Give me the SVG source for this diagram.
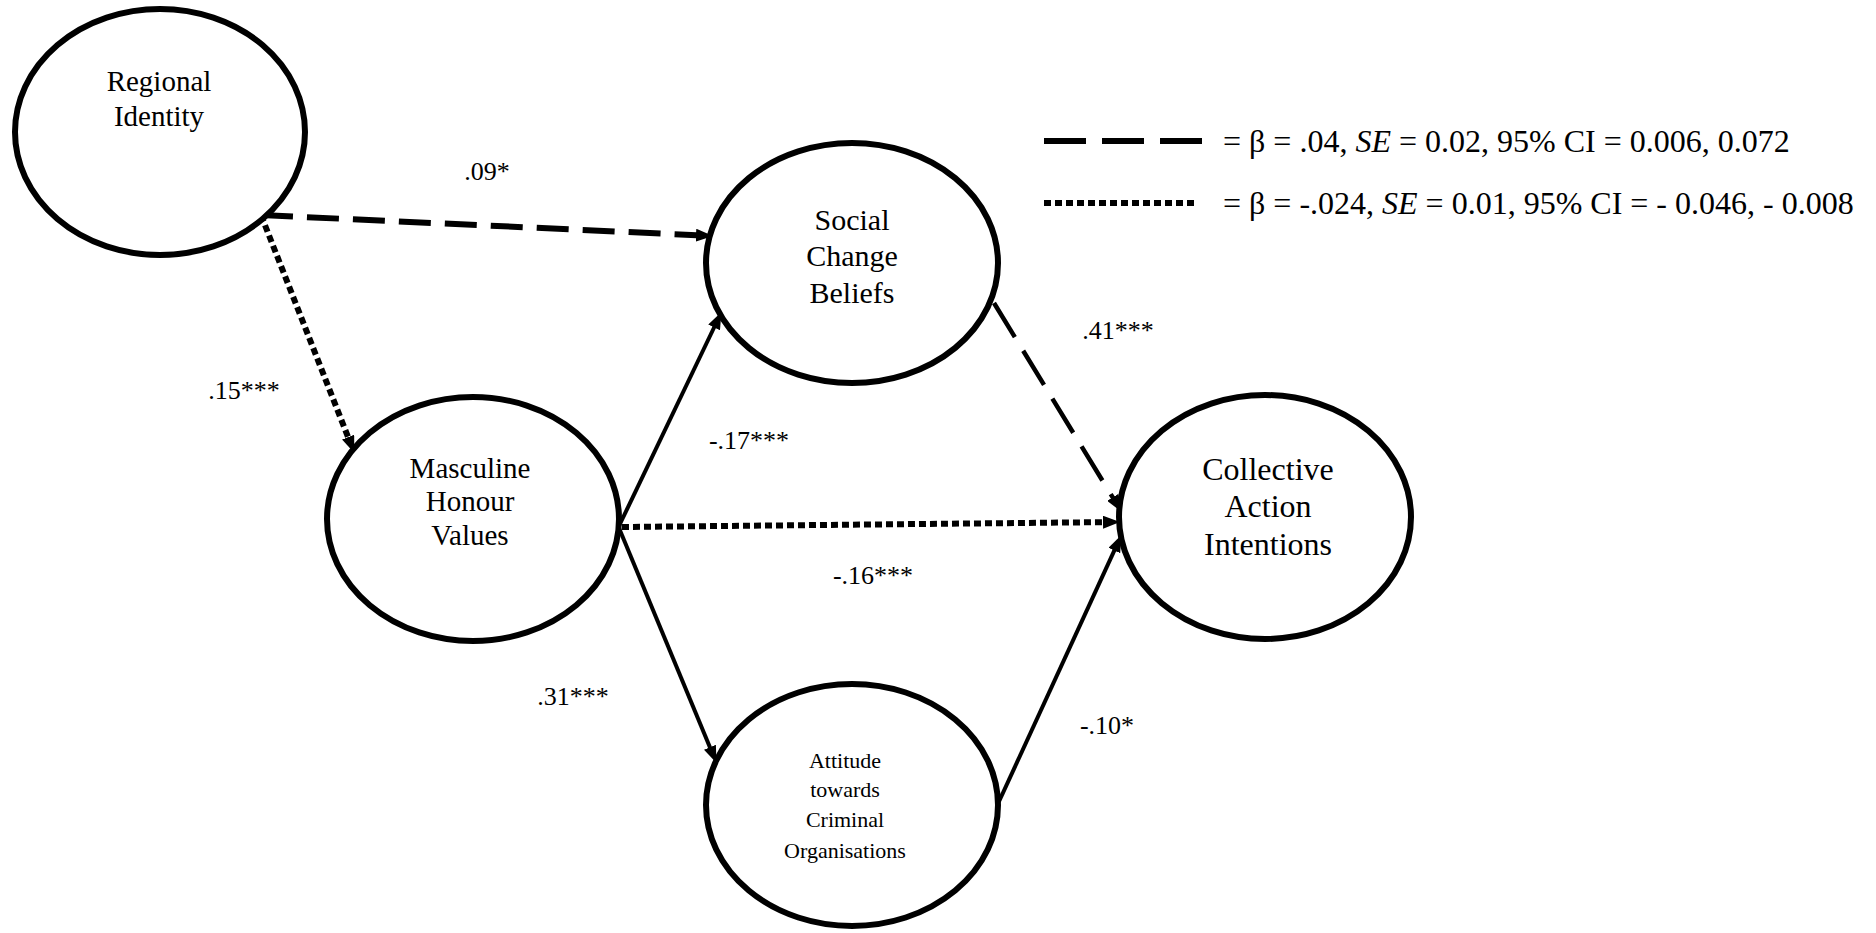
<svg xmlns="http://www.w3.org/2000/svg" width="1876" height="933" viewBox="0 0 1876 933">
<style>
.node{fill:#fff;stroke:#000;stroke-width:6}
.t{font-family:"Liberation Serif","Times New Roman",serif;fill:#000;text-anchor:middle}
.lbl{font-family:"Liberation Serif","Times New Roman",serif;fill:#000;font-size:26px;text-anchor:middle}
.leg{font-family:"Liberation Serif","Times New Roman",serif;fill:#000;font-size:32px}
.solid{fill:none;stroke:#000;stroke-width:4}
.dash{fill:none;stroke:#000;stroke-width:6;stroke-dasharray:32 14}
.dash2{fill:none;stroke:#000;stroke-width:4.5;stroke-dasharray:40 16}
.dot{fill:none;stroke:#000;stroke-width:6;stroke-dasharray:7 4}
</style>
<defs>
<marker id="ah" markerUnits="userSpaceOnUse" markerWidth="17" markerHeight="13" refX="6" refY="6.5" orient="auto">
<path d="M0,0 L17,6.5 L0,13 z" fill="#000"/>
</marker>
</defs>
<rect width="1876" height="933" fill="#fff"/>
<g id="connectors">
<path class="dash" d="M261,215 L702,235.5" marker-end="url(#ah)"/>
<path class="dot" d="M261,215 L350.3,442.7" marker-end="url(#ah)"/>
<path class="solid" d="M619,526 L716.7,322" marker-end="url(#ah)"/>
<path class="solid" d="M619,528 L712.2,752.8" marker-end="url(#ah)"/>
<path class="dot" d="M622,527 L1109,522.1" marker-end="url(#ah)"/>
<path class="dash2" d="M994,303 L1115.8,502.5" marker-end="url(#ah)"/>
<path class="solid" d="M996,808 L1116.8,545.1" marker-end="url(#ah)"/>
</g>
<g id="regional-identity">
<ellipse class="node" cx="160" cy="132" rx="145" ry="123"/>
<text class="t" font-size="29" x="159" y="91">Regional</text>
<text class="t" font-size="29" x="159" y="126">Identity</text>
</g>
<g id="social-change-beliefs">
<ellipse class="node" cx="852" cy="263" rx="146" ry="120"/>
<text class="t" font-size="30" x="852" y="230">Social</text>
<text class="t" font-size="30" x="852" y="266">Change</text>
<text class="t" font-size="30" x="852" y="303">Beliefs</text>
</g>
<g id="masculine-honour-values">
<ellipse class="node" cx="473" cy="519" rx="146" ry="122"/>
<text class="t" font-size="29" x="470" y="478">Masculine</text>
<text class="t" font-size="29" x="470" y="511">Honour</text>
<text class="t" font-size="29" x="470" y="545">Values</text>
</g>
<g id="collective-action-intentions">
<ellipse class="node" cx="1265" cy="517" rx="146" ry="122"/>
<text class="t" font-size="32" x="1268" y="480">Collective</text>
<text class="t" font-size="32" x="1268" y="517">Action</text>
<text class="t" font-size="32" x="1268" y="555">Intentions</text>
</g>
<g id="attitude-criminal-organisations">
<ellipse class="node" cx="852" cy="805" rx="146" ry="121"/>
<text class="t" font-size="22" x="845" y="768">Attitude</text>
<text class="t" font-size="22" x="845" y="797">towards</text>
<text class="t" font-size="22" x="845" y="827">Criminal</text>
<text class="t" font-size="22" x="845" y="858">Organisations</text>
</g>
<g id="labels">
<text class="lbl" x="487" y="180">.09*</text>
<text class="lbl" x="244" y="399">.15***</text>
<text class="lbl" x="1118" y="339">.41***</text>
<text class="lbl" x="749" y="449">-.17***</text>
<text class="lbl" x="873" y="584">-.16***</text>
<text class="lbl" x="573" y="705">.31***</text>
<text class="lbl" x="1107" y="734">-.10*</text>
</g>
<g id="legend">
<line x1="1044" y1="141" x2="1202" y2="141" stroke="#000" stroke-width="6" stroke-dasharray="42 16"/>
<line x1="1044" y1="203" x2="1196" y2="203" stroke="#000" stroke-width="6" stroke-dasharray="7 4"/>
<text class="leg" x="1223" y="152">= β = .04, <tspan font-style="italic">SE</tspan> = 0.02, 95% CI = 0.006, 0.072</text>
<text class="leg" x="1223" y="214">= β = -.024, <tspan font-style="italic">SE</tspan> = 0.01, 95% CI = - 0.046, - 0.008</text>
</g>
</svg>
